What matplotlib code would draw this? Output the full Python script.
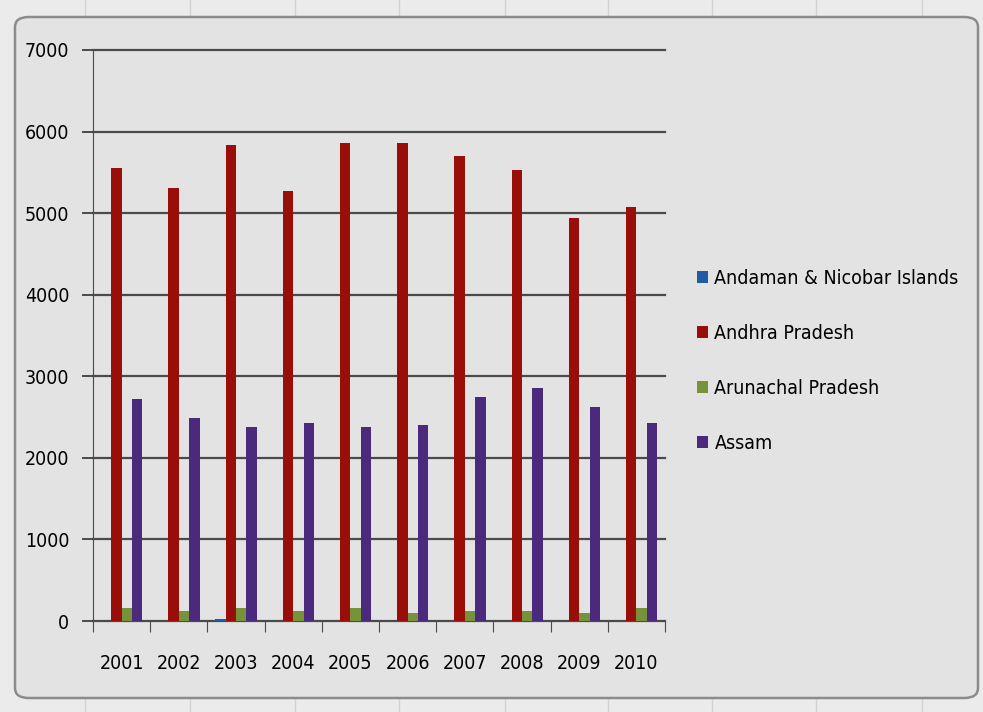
import matplotlib.pyplot as plt
import numpy as np
from matplotlib.patches import FancyBboxPatch

plt.rcParams['font.family'] = ['Liberation Sans Narrow', 'DejaVu Sans']
plt.rcParams['font.stretch'] = 'condensed'

years = ['2001', '2002', '2003', '2004', '2005', '2006', '2007', '2008', '2009', '2010']
andaman = [5, 4, 30, 5, 6, 4, 5, 6, 4, 5]
andhra = [5550, 5305, 5835, 5270, 5860, 5860, 5700, 5525, 4940, 5075]
arunachal = [160, 125, 160, 125, 160, 100, 125, 125, 100, 160]
assam = [2720, 2490, 2380, 2430, 2380, 2400, 2745, 2855, 2625, 2430]

series = [
    ('Andaman & Nicobar Islands', andaman, '#1f5ba6'),
    ('Andhra Pradesh', andhra, '#9a0e0a'),
    ('Arunachal Pradesh', arunachal, '#76933a'),
    ('Assam', assam, '#4b2a7d'),
]

fig = plt.figure(figsize=(9.83, 7.12), dpi=100, facecolor='#ebebeb')

# sheet column lines behind the chart
for xc in [85, 190, 295, 399, 505, 608, 712, 816, 922]:
    fig.add_artist(plt.Line2D([xc / 983, xc / 983], [0, 1], transform=fig.transFigure,
                              color='#d2d2d2', linewidth=1, zorder=-10))

# chart frame
frame = FancyBboxPatch((15 / 983, 14 / 712), 963 / 983, 681 / 712,
                       boxstyle='round,pad=0,rounding_size=0.014',
                       transform=fig.transFigure, facecolor='#e3e3e3', edgecolor='#8c8c8c',
                       linewidth=1.8, zorder=-5)
fig.patches.append(frame)

ax = fig.add_axes([0.0946, 0.1278, 0.582, 0.802])
ax.set_facecolor('none')

x = np.arange(len(years))
w = 1 / 5.5
for i, (name, vals, col) in enumerate(series):
    ax.bar(x + (i - 1.5) * w, vals, width=w, color=col, label=name, zorder=3)

ax.set_xlim(-0.5, 9.5)
ax.set_ylim(0, 7000)
ax.set_yticks(range(0, 7001, 1000))
for v in range(1000, 7001, 1000):
    ax.axhline(v, color='#4a4a4a', linewidth=1.6, zorder=1, clip_on=False)

for s in ['top', 'right']:
    ax.spines[s].set_visible(False)
ax.spines['left'].set_color('#4a4a4a')
ax.spines['bottom'].set_color('#4a4a4a')
ax.spines['bottom'].set_linewidth(1.6)

ax.set_xticks(np.arange(-0.5, 10, 1))
ax.set_xticklabels([])
ax.set_xticks(x, minor=True)
ax.set_xticklabels(years, minor=True)
ax.tick_params(axis='x', which='major', direction='out', length=8, color='#4a4a4a')
ax.tick_params(axis='x', which='minor', length=0, pad=24, labelsize=14)
ax.tick_params(axis='y', direction='out', length=8, width=1.4, pad=9, labelsize=14,
               color='#4a4a4a')

ax.legend(loc='center left', bbox_to_anchor=(1.025, 0.455), frameon=False, fontsize=14,
          handlelength=0.55, handleheight=0.55, handletextpad=0.35, labelspacing=1.85)

fig.savefig('out.png', dpi=100, facecolor=fig.get_facecolor())
